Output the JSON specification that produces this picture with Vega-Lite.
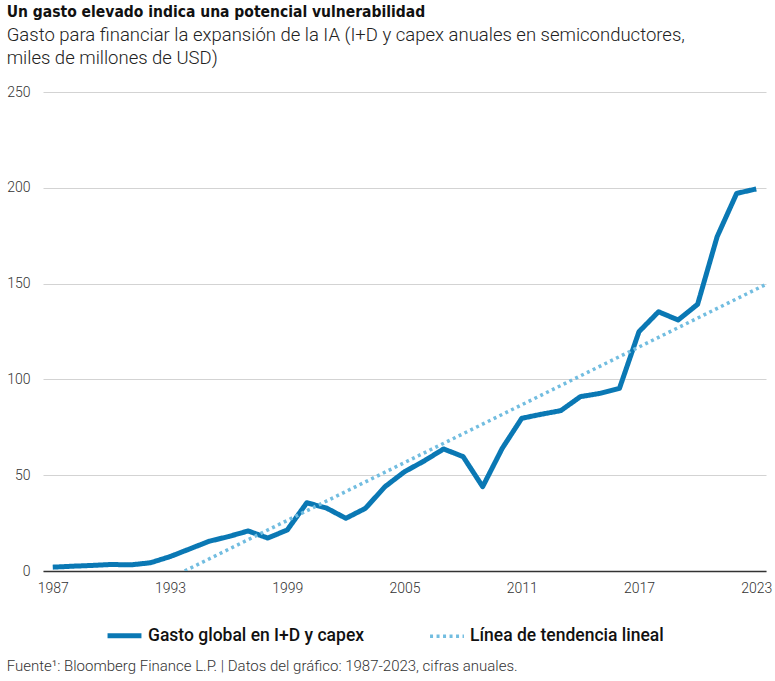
{
  "$schema": "https://vega.github.io/schema/vega-lite/v6.json",
  "padding": {"left": 6, "top": 5, "right": 5, "bottom": 5},
  "background": "white",
  "config": {
    "view": {"stroke": null},
    "font": "Roboto",
    "title": {"color": "#111"}
  },
  "title": {
    "text": "Fuente¹: Bloomberg Finance L.P.  |  Datos del gráfico: 1987-2023, cifras anuales.",
    "orient": "bottom",
    "anchor": "start",
    "frame": "bounds",
    "font": "Roboto",
    "fontSize": 15,
    "fontWeight": 300,
    "color": "#333",
    "offset": 13
  },
  "vconcat": [
    {
      "title": {
        "text": "Un gasto elevado indica una potencial vulnerabilidad",
        "subtitle": ["Gasto para financiar la expansión de la IA (I+D y capex anuales en semiconductores,", "miles de millones de USD)"],
        "anchor": "start",
        "frame": "bounds",
        "font": "DejaVu Sans Condensed, Roboto",
        "fontSize": 15.5,
        "fontWeight": "bold",
        "color": "#111",
        "subtitleFont": "Roboto",
        "subtitleFontSize": 18.5,
        "subtitleFontWeight": 300,
        "subtitleColor": "#222",
        "subtitleLineHeight": 23,
        "subtitlePadding": 5,
        "offset": 18
      },
      "width": 723,
      "height": 479,
      "data": {
        "values": [
          {"year": 1987, "value": 2.0, "serie": "Gasto global en I+D y capex"},
          {"year": 1988, "value": 2.5, "serie": "Gasto global en I+D y capex"},
          {"year": 1989, "value": 2.9, "serie": "Gasto global en I+D y capex"},
          {"year": 1990, "value": 3.4, "serie": "Gasto global en I+D y capex"},
          {"year": 1991, "value": 3.2, "serie": "Gasto global en I+D y capex"},
          {"year": 1992, "value": 4.3, "serie": "Gasto global en I+D y capex"},
          {"year": 1993, "value": 7.5, "serie": "Gasto global en I+D y capex"},
          {"year": 1994, "value": 11.5, "serie": "Gasto global en I+D y capex"},
          {"year": 1995, "value": 15.5, "serie": "Gasto global en I+D y capex"},
          {"year": 1996, "value": 18.0, "serie": "Gasto global en I+D y capex"},
          {"year": 1997, "value": 20.9, "serie": "Gasto global en I+D y capex"},
          {"year": 1998, "value": 17.2, "serie": "Gasto global en I+D y capex"},
          {"year": 1999, "value": 21.4, "serie": "Gasto global en I+D y capex"},
          {"year": 2000, "value": 35.6, "serie": "Gasto global en I+D y capex"},
          {"year": 2001, "value": 32.9, "serie": "Gasto global en I+D y capex"},
          {"year": 2002, "value": 27.5, "serie": "Gasto global en I+D y capex"},
          {"year": 2003, "value": 32.7, "serie": "Gasto global en I+D y capex"},
          {"year": 2004, "value": 44.0, "serie": "Gasto global en I+D y capex"},
          {"year": 2005, "value": 51.8, "serie": "Gasto global en I+D y capex"},
          {"year": 2006, "value": 57.4, "serie": "Gasto global en I+D y capex"},
          {"year": 2007, "value": 63.7, "serie": "Gasto global en I+D y capex"},
          {"year": 2008, "value": 59.7, "serie": "Gasto global en I+D y capex"},
          {"year": 2009, "value": 44.0, "serie": "Gasto global en I+D y capex"},
          {"year": 2010, "value": 64.0, "serie": "Gasto global en I+D y capex"},
          {"year": 2011, "value": 79.7, "serie": "Gasto global en I+D y capex"},
          {"year": 2012, "value": 81.8, "serie": "Gasto global en I+D y capex"},
          {"year": 2013, "value": 83.7, "serie": "Gasto global en I+D y capex"},
          {"year": 2014, "value": 91.0, "serie": "Gasto global en I+D y capex"},
          {"year": 2015, "value": 92.7, "serie": "Gasto global en I+D y capex"},
          {"year": 2016, "value": 95.3, "serie": "Gasto global en I+D y capex"},
          {"year": 2017, "value": 124.9, "serie": "Gasto global en I+D y capex"},
          {"year": 2018, "value": 135.3, "serie": "Gasto global en I+D y capex"},
          {"year": 2019, "value": 131.0, "serie": "Gasto global en I+D y capex"},
          {"year": 2020, "value": 139.2, "serie": "Gasto global en I+D y capex"},
          {"year": 2021, "value": 174.5, "serie": "Gasto global en I+D y capex"},
          {"year": 2022, "value": 197.1, "serie": "Gasto global en I+D y capex"},
          {"year": 2023, "value": 199.4, "serie": "Gasto global en I+D y capex"},
          {"year": 1993.75, "value": 0, "serie": "Línea de tendencia lineal"},
          {"year": 2023.5, "value": 149.6, "serie": "Línea de tendencia lineal"}
        ]
      },
      "mark": {"type": "line", "strokeCap": "butt", "strokeJoin": "round", "clip": true},
      "encoding": {
        "x": {
          "field": "year",
          "type": "quantitative",
          "scale": {"domain": [1986.5, 2023.5], "nice": false, "zero": false},
          "axis": {
            "title": null,
            "values": [1987, 1993, 1999, 2005, 2011, 2017, 2023],
            "format": "d",
            "grid": false,
            "ticks": false,
            "domainColor": "#333",
            "domainWidth": 1.5,
            "labelFont": "Roboto",
            "labelFontSize": 14,
            "labelFontWeight": 300,
            "labelColor": "#333",
            "labelPadding": 10
          }
        },
        "y": {
          "field": "value",
          "type": "quantitative",
          "scale": {"domain": [0, 250], "nice": false},
          "axis": {
            "title": null,
            "values": [0, 50, 100, 150, 200, 250],
            "grid": true,
            "gridColor": "#d3d3d3",
            "gridWidth": 1,
            "domain": false,
            "ticks": false,
            "labelFont": "Roboto",
            "labelFontSize": 14,
            "labelFontWeight": 300,
            "labelColor": "#333",
            "labelPadding": 13
          }
        },
        "color": {
          "field": "serie",
          "type": "nominal",
          "scale": {"domain": ["Gasto global en I+D y capex", "Línea de tendencia lineal"], "range": ["#0a78b4", "#72bde0"]},
          "legend": {
            "title": null,
            "orient": "none",
            "direction": "horizontal",
            "legendX": 62,
            "legendY": 524,
            "symbolType": "stroke",
            "symbolSize": 1150,
            "labelFont": "Roboto",
            "labelFontSize": 17.5,
            "labelFontWeight": 500,
            "labelColor": "#111",
            "labelOffset": 4,
            "labelLimit": 400,
            "columnPadding": 58
          }
        },
        "strokeDash": {
          "field": "serie",
          "type": "nominal",
          "scale": {"domain": ["Gasto global en I+D y capex", "Línea de tendencia lineal"], "range": [[1, 0], [3, 3.5]]},
          "legend": null
        },
        "strokeWidth": {
          "field": "serie",
          "type": "nominal",
          "scale": {"domain": ["Gasto global en I+D y capex", "Línea de tendencia lineal"], "range": [5, 3.5]},
          "legend": null
        }
      }
    }
  ]
}
